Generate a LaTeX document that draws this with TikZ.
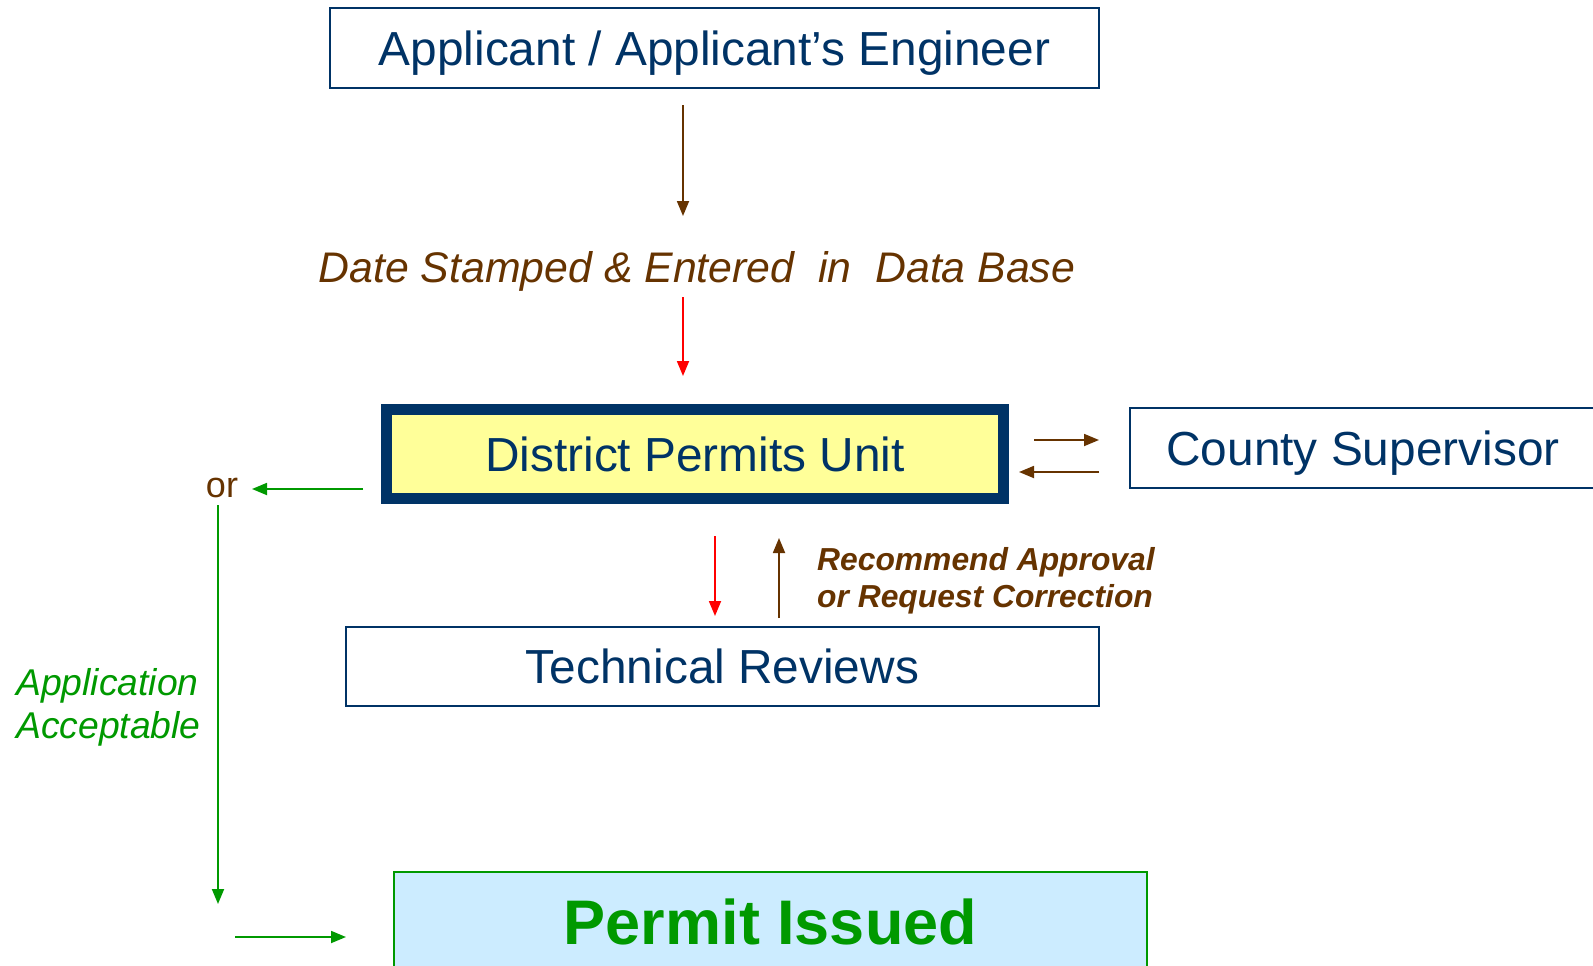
\documentclass[tikz,border=0pt]{standalone}
\usepackage{fontspec}
\setmainfont{Liberation Sans}
\usetikzlibrary{arrows.meta}
\definecolor{navy}{HTML}{003366}
\definecolor{brn}{HTML}{663300}
\definecolor{grn}{HTML}{009900}
\definecolor{yel}{HTML}{FFFF99}
\definecolor{lblue}{HTML}{CCECFF}
\begin{document}
\begin{tikzpicture}[x=1pt,y=-1pt,
  box/.style={draw=navy,line width=2pt,text=navy,inner sep=0pt,text depth=0pt,font=\fontsize{47.8}{50}\selectfont},
  arr/.style={line width=1.8pt,-{Triangle[length=15pt,width=12pt]}},
  brarr/.style={arr,draw=brn},
  redarr/.style={arr,draw=red},
  grarr/.style={arr,draw=grn},
  lbl/.style={inner sep=0pt}
]
\useasboundingbox (0,0) rectangle (1593,966);
\fill[white] (0,0) rectangle (1593,966);

% boxes
\node[box,minimum width=769pt,minimum height=80pt] (app) at (714.5,48) {Applicant / Applicant’s Engineer};
\node[box,line width=11pt,fill=yel,minimum width=617pt,minimum height=89pt] (dpu) at (695,454) {District Permits Unit};
\node[box,minimum width=466pt,minimum height=80pt] (county) at (1363,448) {County Supervisor};
\node[box,minimum width=753pt,minimum height=79pt] (tech) at (722.5,666) {Technical Reviews};
\node[draw=grn,line width=2pt,fill=lblue,text=grn,inner sep=0pt,minimum width=753pt,minimum height=100pt,font=\bfseries\fontsize{63}{66}\selectfont] (permit) at (770.5,922) {Permit Issued};

% labels
\node[lbl,text=brn,text depth=0pt,font=\itshape\fontsize{42.8}{46}\selectfont] (date) at (697,267) {Date Stamped \& Entered \ in \ Data Base};
\node[lbl,text=brn,font=\fontsize{36}{40}\selectfont] (orl) at (222,488) {or};
\node[lbl,text=grn,anchor=west,align=left,font=\itshape\fontsize{37.3}{43}\selectfont] (accept) at (16,707.5) {Application\\Acceptable};
\node[lbl,text=brn,anchor=west,align=left,font=\bfseries\itshape\fontsize{31.8}{37}\selectfont] (recom) at (817,580.5) {Recommend Approval\\or Request Correction};

% arrow end points
\coordinate (a1s) at (683,105);  \coordinate (a1e) at (683,216);
\coordinate (a2s) at (683,297);  \coordinate (a2e) at (683,376);
\coordinate (a3s) at (1034,440); \coordinate (a3e) at (1099,440);
\coordinate (a4s) at (1099,472); \coordinate (a4e) at (1019,472);
\coordinate (a5s) at (363,489);  \coordinate (a5e) at (252,489);
\coordinate (a6s) at (218,505);  \coordinate (a6e) at (218,904);
\coordinate (a7s) at (235,937);  \coordinate (a7e) at (346,937);
\coordinate (a8s) at (715,536);  \coordinate (a8e) at (715,616);
\coordinate (a9s) at (779,618);  \coordinate (a9e) at (779,538);

\draw[brarr] (a1s) -- (a1e);
\draw[redarr] (a2s) -- (a2e);
\draw[brarr] (a3s) -- (a3e);
\draw[brarr] (a4s) -- (a4e);
\draw[grarr] (a5s) -- (a5e);
\draw[grarr] (a6s) -- (a6e);
\draw[grarr] (a7s) -- (a7e);
\draw[redarr] (a8s) -- (a8e);
\draw[brarr] (a9s) -- (a9e);
\end{tikzpicture}
\end{document}
